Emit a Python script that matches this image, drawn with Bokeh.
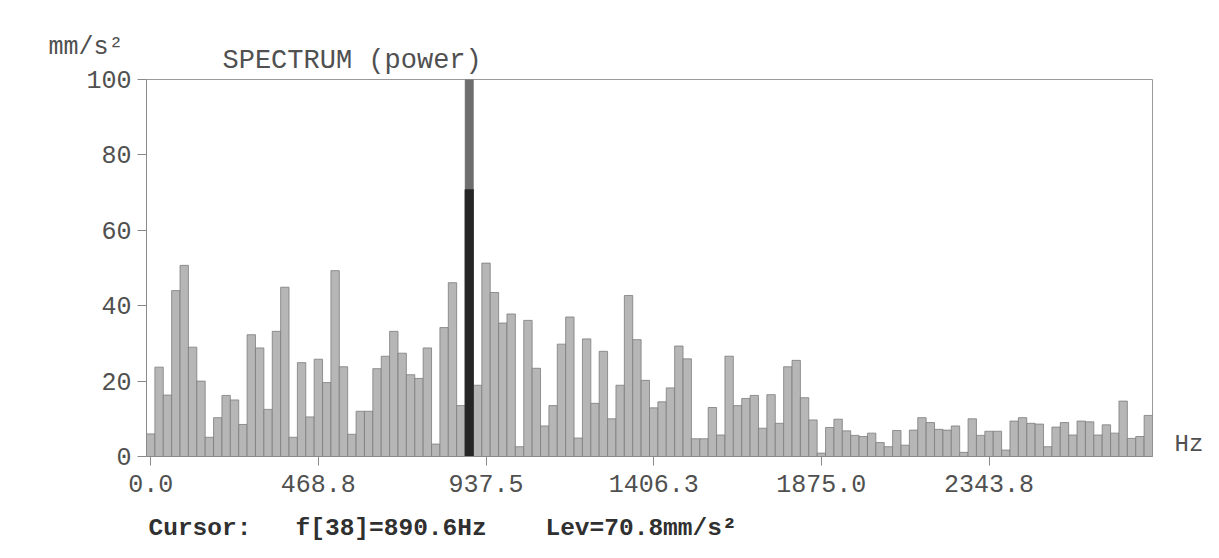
from bokeh.plotting import figure
from bokeh.models import Range1d, FixedTicker, Label, ColumnDataSource
from bokeh.embed import file_html
from bokeh.resources import INLINE

# ---- data ----
DF = 23.4375  # Hz per bin
levels = [6.0, 23.7, 16.3, 44.0, 50.7, 29.0, 20.0, 5.1, 10.3, 16.2,
          15.0, 8.5, 32.3, 28.8, 12.5, 33.2, 44.9, 5.1, 24.9, 10.5,
          25.8, 19.6, 49.3, 23.8, 5.9, 12.0, 12.0, 23.3, 26.6, 33.2,
          27.4, 21.7, 20.7, 28.8, 3.3, 34.2, 46.1, 13.5, 70.8, 18.9,
          51.3, 43.5, 35.4, 37.8, 2.6, 36.1, 23.4, 8.1, 13.5, 29.8,
          37.0, 4.9, 31.2, 14.1, 27.9, 10.0, 18.9, 42.7, 31.0, 20.2,
          12.9, 14.5, 18.2, 29.3, 25.9, 4.7, 4.7, 13.0, 5.7, 26.6,
          13.5, 15.4, 16.2, 7.5, 16.4, 8.8, 23.8, 25.5, 15.6, 9.7,
          0.9, 7.7, 9.9, 6.8, 5.6, 5.3, 6.2, 3.7, 2.6, 6.9,
          3.0, 7.0, 10.3, 9.0, 7.2, 7.0, 8.1, 1.1, 10.0, 5.6,
          6.7, 6.7, 1.7, 9.4, 10.3, 8.8, 8.6, 2.6, 7.8, 9.0,
          5.7, 9.4, 9.2, 5.7, 8.4, 6.2, 14.7, 4.8, 5.3, 10.9]
bins = list(range(len(levels)))
freqs = [b * DF for b in bins]
tick_bins = [0, 20, 40, 60, 80, 100]
tick_labels = ["0.0", "468.8", "937.5", "1406.3", "1875.0", "2343.8"]
y_ticks = [0, 20, 40, 60, 80, 100]
cursor_bin = 38
cursor_level = levels[cursor_bin]
title_text = "SPECTRUM (power)"
unit_text = "mm/s\u00b2"
xunit_text = "Hz"
NB = "\u00a0"
cursor_text = ("Cursor:" + NB * 3 + "f[%d]=%.1fHz" % (cursor_bin, cursor_bin * DF)
               + NB * 4 + "Lev=%.1fmm/s\u00b2" % cursor_level)

N = len(levels)
W, H = 1203, 550
FL, FT, FW, FH = 146, 79, 1006, 377

p = figure(width=W, height=H, output_backend="svg", toolbar_location=None,
           x_range=Range1d(-0.5 * DF, (N - 0.5) * DF), y_range=Range1d(0, 100),
           min_border_left=FL, min_border_right=W - FL - FW,
           min_border_top=FT, min_border_bottom=H - FT - FH)
p.background_fill_color = "white"
p.border_fill_color = "white"
p.outline_line_color = "#9a9a9a"
p.outline_line_width = 1
p.xgrid.visible = False
p.ygrid.visible = False

src = ColumnDataSource(dict(x=freqs, top=levels))
p.vbar(x="x", top="top", width=DF, bottom=0, source=src,
       fill_color="#b6b6b6", line_color="#7c7c7c", line_width=0.8)

# cursor
p.vbar(x=[cursor_bin * DF], top=[100], bottom=0, width=DF,
       fill_color="#6e6e6e", line_color="#6e6e6e", line_width=0.5)
p.vbar(x=[cursor_bin * DF], top=[cursor_level], bottom=0, width=DF,
       fill_color="#262626", line_color="#262626", line_width=0.5)

FONT = "Liberation Mono"
TXT = "#505050"

xa = p.xaxis[0]
xa.ticker = FixedTicker(ticks=[b * DF for b in tick_bins])
xa.major_label_overrides = {b * DF: lab for b, lab in zip(tick_bins, tick_labels)}
xa.major_label_text_font = FONT
xa.major_label_text_font_size = "25px"
xa.major_label_text_color = TXT
xa.major_label_standoff = 9
xa.major_tick_out = 9
xa.major_tick_in = 0
xa.minor_tick_out = 0
xa.minor_tick_in = 0
xa.axis_line_color = "#8a8a8a"
xa.major_tick_line_color = "#8a8a8a"

ya = p.yaxis[0]
ya.ticker = FixedTicker(ticks=y_ticks)
ya.major_label_text_font = FONT
ya.major_label_text_font_size = "25px"
ya.major_label_text_color = TXT
ya.major_label_standoff = 6
ya.major_tick_out = 9
ya.major_tick_in = 0
ya.minor_tick_out = 0
ya.minor_tick_in = 0
ya.axis_line_color = "#8a8a8a"
ya.major_tick_line_color = "#8a8a8a"

# helpers converting canvas pixel to data coords (layout only)
def dx(px):
    return (px - FL) / FW * (N * DF) - 0.5 * DF
def dy(py):
    return (FT + FH - py) / FH * 100

# labels placed in side panels so that they are not clipped to the frame
p.add_layout(Label(x=dx(222), y=dy(60), text=title_text, text_font=FONT,
                   text_font_size="27px", text_color=TXT, text_baseline="middle"), "above")
p.add_layout(Label(x=dx(48), y=dy(47), text=unit_text, text_font=FONT,
                   text_font_size="25px", text_color=TXT, text_baseline="middle"), "above")
p.add_layout(Label(x=dx(1174), y=dy(444), text=xunit_text, text_font=FONT,
                   text_font_size="24px", text_color=TXT, text_baseline="middle"), "right")
p.add_layout(Label(x=dx(148), y=dy(528), text=cursor_text, text_font=FONT,
                   text_font_size="24.5px", text_font_style="bold", text_color="#303030",
                   text_baseline="middle"), "below")

open("out.html", "w").write(file_html(p, INLINE))
